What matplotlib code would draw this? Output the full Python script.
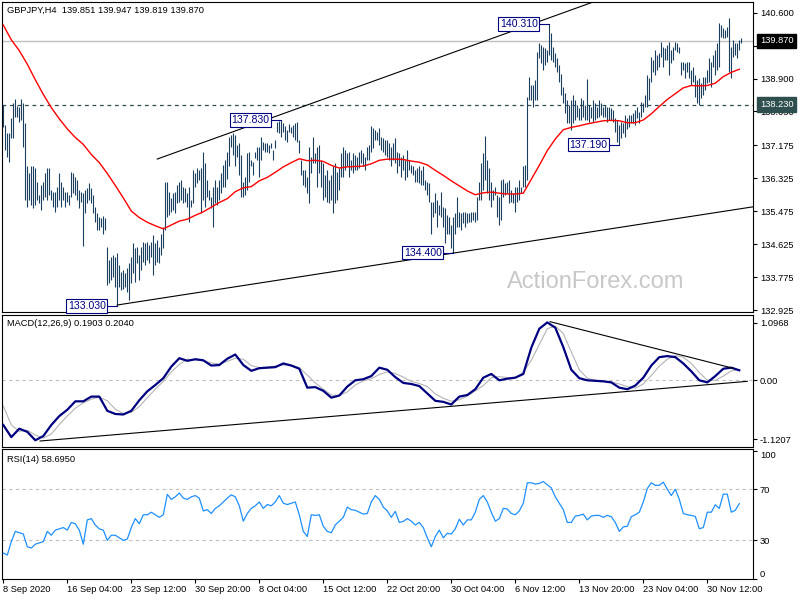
import numpy as np
import matplotlib
matplotlib.use("Agg")
import matplotlib.pyplot as plt

plt.rcParams['font.family'] = ['Liberation Sans', 'DejaVu Sans']

# ---- price data (GBPJPY H4), one entry per bar ----
highs = [
    138.23, 137.70, 137.49, 137.49, 137.87, 138.26, 138.36, 138.19, 138.17, 138.36,
    138.26, 137.74, 136.63, 136.45, 136.63, 136.63, 136.58, 136.24, 135.89, 136.15,
    136.24, 136.45, 136.58, 136.58, 136.02, 135.98, 135.98, 136.11, 136.45, 136.24,
    136.11, 135.98, 135.98, 135.89, 136.50, 136.45, 136.37, 136.28, 136.02, 135.98,
    135.94, 136.02, 136.07, 136.20, 136.07, 135.89, 135.59, 135.42, 135.33, 135.29,
    135.35, 135.29, 134.56, 134.22, 134.30, 134.34, 134.30, 134.39, 134.09, 133.91,
    133.96, 133.87, 134.00, 134.13, 134.30, 134.65, 134.52, 134.56, 134.34, 134.56,
    134.69, 134.65, 134.69, 134.60, 134.69, 134.86, 134.65, 134.73, 134.56, 134.90,
    135.08, 136.24, 136.24, 135.98, 135.81, 135.94, 135.98, 136.15, 136.24, 136.28,
    136.11, 136.07, 135.94, 136.11, 135.77, 136.54, 136.45, 136.58, 136.54,
    136.58, 137.01, 136.71, 136.28, 136.02, 135.85, 136.11, 136.28, 136.11, 136.28,
    136.45, 136.67, 136.80, 137.01, 137.40, 137.44, 137.49, 137.44, 137.19, 137.23,
    136.93, 136.24, 136.37, 136.97, 137.01, 136.80, 136.75, 137.01, 137.14, 137.14,
    137.40, 137.27, 137.23, 137.24, 137.19, 137.23, 137.06, 137.31, 137.79, 137.81,
    137.83, 137.76, 137.68, 137.57, 137.73, 137.66, 137.70, 137.74, 137.79, 137.31,
    136.80, 136.54, 136.54, 136.37, 137.14, 136.88, 137.38, 136.97, 137.14, 137.19,
    136.80, 136.71, 136.41, 136.54, 136.28, 136.41, 136.63, 136.71, 136.50, 136.58,
    136.97, 137.14, 137.06, 136.97, 137.01, 136.80, 136.97, 136.93, 136.88, 137.01,
    137.06, 136.97, 136.88, 137.14, 137.19, 137.68, 137.62, 137.57, 137.53, 137.62,
    137.38, 137.36, 137.31, 137.31, 137.23,
    137.14, 137.23, 137.36, 137.01, 136.97, 136.88, 136.93, 136.80, 137.06, 136.80,
    136.67, 136.63, 136.54, 136.58, 136.63, 136.54, 136.63, 136.28, 136.24, 136.20,
    135.72, 135.72, 135.94, 135.77, 135.64, 135.98, 135.59, 135.55, 135.38, 135.33,
    135.12, 135.33, 135.42, 135.85, 135.46, 135.42, 135.46, 135.46, 135.42, 135.42,
    135.46, 135.46, 135.46, 135.85, 136.24, 136.71, 136.97, 137.42, 136.80, 136.58,
    136.24, 136.02, 136.11, 135.89, 135.85, 136.28, 136.32, 136.20, 136.24, 136.28,
    136.02, 135.94, 136.11, 136.11, 136.28, 136.11, 136.63, 136.67, 138.43, 138.95,
    138.73, 138.73, 138.86, 139.59, 139.81, 139.77, 139.72, 139.68, 139.64, 140.31,
    140.07, 139.72, 139.55, 139.42, 139.25, 139.03, 138.69, 138.52, 138.35, 138.22,
    138.35, 138.48, 138.35, 138.22, 138.13,
    138.39, 138.35, 138.22, 138.88, 138.22, 138.17, 138.35, 138.26, 138.17, 138.35,
    138.26, 138.17, 138.22, 138.17, 138.17, 138.13, 138.09, 137.87, 137.83, 137.70,
    137.79, 137.74, 137.96, 137.87, 137.96, 137.96, 138.00, 138.09, 138.17, 138.04,
    138.30, 138.26, 138.48, 138.99, 138.91, 139.46, 139.38, 139.64, 139.51, 139.55,
    139.85, 139.72, 139.68, 139.77, 139.85, 139.64, 139.72, 139.85, 139.81, 139.72,
    139.34, 139.34, 139.29, 139.34, 139.34, 139.12, 139.21, 138.99, 138.86, 138.91,
    138.78, 138.95, 138.95, 139.12, 139.42, 139.34, 139.51, 139.64, 139.81, 140.33,
    140.28, 140.20, 140.15, 140.24, 140.46, 139.72, 139.90, 139.81, 139.81, 139.90,
    139.947,
]
lows = [
    137.66, 137.06, 136.88, 136.75, 137.36, 137.36, 137.92, 137.92, 137.79, 137.83,
    137.14, 135.77, 135.59, 135.77, 135.64, 135.55, 135.64, 135.77, 135.68, 135.51,
    135.77, 135.85, 135.77, 135.89, 135.77, 135.59, 135.46, 135.59, 135.77, 135.59,
    135.77, 135.59, 135.72, 135.64, 135.85, 135.94, 135.89, 135.77, 135.55, 135.72,
    134.58, 135.42, 135.68, 135.77, 135.68, 135.42, 135.20, 134.99, 134.99, 135.08,
    134.90, 134.99, 133.57, 133.61, 133.70, 133.79, 133.53, 133.03, 133.53, 133.44,
    133.48, 133.53, 133.40, 133.18, 133.61, 133.87, 133.66, 134.13, 133.70, 133.96,
    134.17, 134.09, 134.22, 134.13, 134.30, 133.83, 134.09, 134.17, 134.13, 134.34,
    134.52, 134.99, 135.33, 135.38, 135.46, 135.51, 135.42, 135.68, 135.72, 135.77,
    135.68, 135.72, 135.59, 135.20, 135.59, 135.68, 136.11, 136.20, 136.28,
    135.42, 135.77, 135.59, 135.85, 135.77, 135.55, 135.08, 135.68, 135.64, 135.77,
    135.94, 136.11, 136.11, 136.32, 136.63, 137.14, 136.93, 136.63, 136.88, 136.41,
    135.85, 135.85, 135.89, 136.02, 136.24, 136.63, 136.41, 136.84, 136.80, 136.37,
    136.80, 137.06, 137.01, 137.01, 136.97, 137.10, 136.80, 137.10, 137.53, 137.49,
    137.40, 137.53, 137.31, 137.27, 137.53, 137.49, 137.40, 137.31, 137.27, 136.97,
    136.41, 136.15, 136.11, 135.94, 135.68, 136.45, 136.71, 136.71, 136.11, 136.45,
    136.11, 135.77, 135.85, 135.72, 135.68, 135.77, 135.42, 135.68, 135.77, 136.02,
    136.37, 136.37, 136.54, 136.63, 136.37, 136.54, 136.45, 136.54, 136.54, 136.58,
    136.71, 136.63, 136.54, 136.80, 136.80, 137.01, 137.10, 137.31, 137.31, 137.19,
    137.06, 137.01, 136.93, 136.88, 136.80,
    136.63, 136.80, 136.71, 136.45, 136.63, 136.37, 136.54, 136.28, 136.37, 136.54,
    136.45, 136.41, 136.24, 136.24, 136.20, 136.15, 136.15, 136.02, 135.89, 135.72,
    134.90, 135.33, 135.42, 135.08, 135.38, 135.33, 135.08, 134.65, 134.90, 134.90,
    134.52, 134.40, 134.90, 135.08, 135.08, 134.99, 135.16, 135.08, 135.16, 135.20,
    135.20, 135.25, 135.20, 135.25, 135.77, 135.77, 136.02, 136.28, 135.94, 135.77,
    135.59, 135.77, 135.89, 135.33, 135.12, 135.25, 135.85, 135.89, 135.94, 135.68,
    135.72, 135.68, 135.46, 135.72, 135.77, 135.94, 136.11, 136.11, 136.28, 138.35,
    138.35, 138.17, 138.35, 138.35, 139.42, 139.29, 139.12, 139.25, 139.34, 139.51,
    139.38, 139.34, 139.21, 139.08, 138.82, 138.48, 138.26, 138.00, 137.74, 137.74,
    137.57, 137.74, 137.83, 137.92, 137.83,
    137.83, 137.92, 137.83, 137.83, 137.79, 137.87, 137.79, 137.83, 137.87, 137.92,
    137.96, 137.92, 137.92, 137.79, 137.83, 137.83, 137.79, 137.53, 137.27, 137.19,
    137.36, 137.49, 137.40, 137.61, 137.66, 137.74, 137.74, 137.70, 137.87, 137.74,
    137.92, 138.04, 138.17, 138.17, 138.35, 138.82, 139.08, 138.99, 139.12, 139.21,
    139.46, 139.21, 139.38, 139.38, 138.99, 139.29, 139.38, 139.64, 139.59, 139.55,
    138.99, 139.12, 138.91, 139.08, 138.91, 138.73, 138.82, 138.43, 138.26, 138.22,
    138.39, 138.48, 138.60, 138.78, 138.82, 138.69, 139.21, 138.99, 139.12, 139.21,
    139.98, 139.94, 139.94, 139.98, 139.08, 138.91, 139.46, 139.51, 139.42, 139.64,
    139.819,
]

# moving average (red), read every 4 bars
ma_step = 4
ma = [
    140.28, 139.90, 139.62, 139.27, 138.87, 138.49, 138.15, 137.86, 137.60, 137.38,
    137.20, 136.94, 136.73, 136.45, 136.14, 135.82, 135.48, 135.31, 135.19, 135.10,
    135.02, 135.12, 135.22, 135.27, 135.37, 135.46, 135.58, 135.70, 135.80, 135.98,
    136.08, 136.11, 136.26, 136.35, 136.48, 136.62, 136.73, 136.83, 136.78, 136.79,
    136.76, 136.66, 136.59, 136.62, 136.63, 136.64, 136.70, 136.79, 136.82, 136.82,
    136.81, 136.77, 136.74, 136.67, 136.53, 136.40, 136.26, 136.13, 136.00, 135.90,
    135.95, 135.97, 135.94, 135.92, 135.92, 135.94, 136.30, 136.66, 137.04, 137.34,
    137.58, 137.64, 137.68, 137.73, 137.77, 137.81, 137.82, 137.81, 137.76, 137.76,
    137.83, 137.99, 138.18, 138.36, 138.51, 138.66, 138.72, 138.71, 138.72, 138.78,
    138.95, 139.06, 139.14,
]

# MACD(12,26,9) main and signal, read every 4 bars
macd_step = 4
macd_main = [
    -0.85, -1.08, -0.92, -0.98, -1.14, -1.06, -0.85, -0.68, -0.56, -0.40,
    -0.40, -0.31, -0.31, -0.58, -0.64, -0.65, -0.58, -0.38, -0.21, -0.09,
    0.04, 0.26, 0.42, 0.37, 0.40, 0.38, 0.28, 0.29, 0.41, 0.49,
    0.29, 0.18, 0.23, 0.24, 0.25, 0.32, 0.28, 0.22, -0.14, -0.13,
    -0.20, -0.33, -0.29, -0.12, 0.00, 0.02, 0.08, 0.24, 0.20, 0.06,
    -0.05, -0.07, -0.11, -0.25, -0.39, -0.41, -0.46, -0.31, -0.28, -0.17,
    0.05, 0.12, 0.00, 0.03, 0.05, 0.12, 0.62, 0.98, 1.10, 1.00,
    0.63, 0.20, 0.04, 0.00, -0.01, -0.02, -0.04, -0.14, -0.17, -0.10,
    0.05, 0.28, 0.44, 0.46, 0.44, 0.32, 0.17, 0.00, -0.04, 0.08,
    0.22, 0.24, 0.19,
]
macd_signal = [
    -0.49, -0.85, -0.97, -0.95, -1.04, -1.10, -1.02, -0.84, -0.68, -0.53,
    -0.43, -0.36, -0.32, -0.39, -0.55, -0.63, -0.61, -0.50, -0.33, -0.17,
    -0.02, 0.16, 0.30, 0.40, 0.39, 0.37, 0.33, 0.31, 0.36, 0.42,
    0.40, 0.28, 0.24, 0.25, 0.27, 0.29, 0.29, 0.24, 0.10, -0.05,
    -0.17, -0.28, -0.29, -0.22, -0.09, -0.01, 0.03, 0.11, 0.16, 0.13,
    0.06, -0.02, -0.06, -0.12, -0.26, -0.34, -0.40, -0.37, -0.30, -0.20,
    -0.10, 0.05, 0.07, 0.05, 0.05, 0.15, 0.38, 0.68, 0.98, 1.03,
    0.89, 0.54, 0.20, 0.04, 0.00, -0.02, -0.03, -0.07, -0.12, -0.15,
    -0.07, 0.09, 0.27, 0.40, 0.47, 0.44, 0.32, 0.15, 0.00, 0.00,
    0.08, 0.18, 0.20,
]

# RSI(14), read every 2 bars
rsi_step = 2
rsi = [
    20.1, 18.5, 29, 37, 36, 35, 25, 24, 27, 28,
    29, 37, 34, 38, 39, 40, 38, 44, 43, 38,
    27, 46, 47, 42, 39, 38, 30, 34, 34, 32,
    30, 31, 40, 47, 43, 50, 50, 52, 50, 48,
    50, 66, 62, 64, 67, 63, 62, 64, 65, 63,
    53, 54, 51, 55, 57, 60, 63, 65.6, 64, 57,
    45, 51, 55, 57, 60, 55, 58, 57, 60, 65,
    59, 58, 59, 60, 50, 37, 33, 50, 49.5, 50,
    41, 37, 36, 42, 45, 48, 56, 54, 53.5, 52,
    50.5, 51, 60, 65, 62, 56, 53, 48, 52.6, 44,
    44.8, 47, 45, 42, 44, 40, 32, 25, 33, 38,
    32, 35.5, 35, 39, 46.5, 42, 46, 46, 52, 62,
    65, 60, 52, 45, 47, 55, 54.5, 51, 50, 53,
    59, 75, 75, 74, 74.5, 76, 73.4, 71, 64, 59,
    54, 44, 44, 49, 49.5, 50.5, 46, 49, 49.5, 49.5,
    48, 49.5, 48.5, 44, 37, 40.5, 41, 48.5, 50, 52,
    60, 70.5, 75, 73, 73, 75.5, 70, 65, 70, 62,
    51, 50, 49.5, 48.7, 39.1, 40, 52, 52, 57.8, 55,
    66.1, 66.1, 52, 53.5, 58.7,
]

# marked swing highs / lows (bar index, price)
swing_bars = [57, 139, 225, 273, 308]
swing_prices = [133.030, 137.830, 134.400, 140.310, 137.190]

# trend lines: (bar, value) end points
price_upper_line = [(77, 136.823), (300, 140.97)]
price_lower_line = [(57, 133.055), (375, 135.59)]
macd_lower_line = [(18.4, -1.154), (372, -0.02)]
macd_upper_line = [(273.4, 1.114), (365, 0.228)]

bid_price = 139.870
level_price = 138.230

price_ticks = [140.600, 139.750, 138.900, 138.050, 137.175, 136.325,
               135.475, 134.625, 133.775, 132.925]
time_ticks = [0, 32, 64, 96, 128, 160, 192, 224, 256, 288, 320, 352]
time_labels = ['8 Sep 2020', '16 Sep 04:00', '23 Sep 12:00', '30 Sep 20:00',
               '8 Oct 04:00', '15 Oct 12:00', '22 Oct 20:00', '30 Oct 04:00',
               '6 Nov 12:00', '13 Nov 20:00', '23 Nov 04:00', '30 Nov 12:00']

bar_color = '#1b3f5e'
lab_fs = 6.7
xlim = (-0.65, 374.85)

fig = plt.figure(figsize=(8, 6), dpi=100)
W, H = 800.0, 600.0


def panel(top, bottom):
    return fig.add_axes([2 / W, 1 - bottom / H, 751 / W, (bottom - top) / H])


def style(ax):
    for s in ax.spines.values():
        s.set_linewidth(0.8)
        s.set_color('black')
    ax.yaxis.tick_right()
    ax.tick_params(axis='y', direction='out', length=3, width=0.8,
                   labelsize=lab_fs, pad=2, colors='black')
    ax.set_xlim(*xlim)


# ---- price panel ----
ax1 = panel(2, 312)
style(ax1)
bars_x = np.arange(len(highs))
ax1.axhline(bid_price, color='#c0c0c0', lw=1, zorder=1)
ax1.axhline(level_price, color='#2f4f4f', lw=0.9, ls=(0, (3, 3)), zorder=1)
ax1.vlines(bars_x, lows, highs, color=bar_color, lw=0.8, zorder=3)
ax1.plot(np.arange(len(ma)) * ma_step, ma, color='red', lw=1.0, zorder=4)
for line in (price_upper_line, price_lower_line):
    (x0, y0), (x1, y1) = line
    ax1.plot([x0, x1], [y0, y1], color='black', lw=0.8, zorder=4)

for b, p in zip(swing_bars, swing_prices):
    ax1.plot([b - 5, b], [p, p], color='#000080', lw=0.8, zorder=4)
    ax1.text(b - 5.8, p, f'{p:.3f}', ha='right', va='center', fontsize=7.6,
             color='#000080', zorder=6,
             bbox=dict(boxstyle='square,pad=0.15', fc='white', ec='#000080', lw=0.8))

ax1.set_ylim(132.874, 140.876)
ax1.set_yticks(price_ticks)
ax1.set_yticklabels([f'{v:.3f}' for v in price_ticks])
ax1.set_xticks([])
ax1.text(0.0067, 0.972, 'GBPJPY,H4  139.851 139.947 139.819 139.870',
         transform=ax1.transAxes, ha='left', va='center', fontsize=lab_fs)
ax1.text(0.79, 0.097, 'ActionForex.com', transform=ax1.transAxes,
         ha='center', va='center', fontsize=17, color='#c8c8c8', zorder=2)
ytr = ax1.get_yaxis_transform()
ax1.text(1.0093, bid_price, f'{bid_price:.3f}', transform=ytr, ha='left',
         va='center', fontsize=lab_fs, color='white', zorder=7, clip_on=False,
         bbox=dict(boxstyle='square,pad=0.3', fc='black', ec='black'))
ax1.text(1.0093, level_price, f'{level_price:.3f}', transform=ytr, ha='left',
         va='center', fontsize=lab_fs, color='white', zorder=7, clip_on=False,
         bbox=dict(boxstyle='square,pad=0.3', fc='#2f4f4f', ec='#2f4f4f'))

# ---- MACD panel ----
ax2 = panel(315, 447)
style(ax2)
mx = np.arange(len(macd_main)) * macd_step
ax2.axhline(0, color='#c0c0c0', lw=0.8, ls=(0, (3, 3)), zorder=1)
ax2.plot(mx, macd_signal, color='#b4b4b4', lw=0.8, zorder=2)
ax2.plot(mx, macd_main, color='#000080', lw=1.6, zorder=3)
for line in (macd_lower_line, macd_upper_line):
    (x0, y0), (x1, y1) = line
    ax2.plot([x0, x1], [y0, y1], color='black', lw=0.8, zorder=4)
ax2.set_ylim(-1.268, 1.241)
ax2.set_yticks([1.0968, 0.0, -1.1207])
ax2.set_yticklabels(['1.0968', '0.00', '-1.1207'])
ax2.set_xticks([])
ax2.text(0.0067, 0.932, 'MACD(12,26,9) 0.1903 0.2040', transform=ax2.transAxes,
         ha='left', va='center', fontsize=lab_fs)

# ---- RSI panel ----
ax3 = panel(449, 579)
style(ax3)
ax3.axhline(70, color='#c0c0c0', lw=0.8, ls=(0, (3, 3)), zorder=1)
ax3.axhline(30, color='#c0c0c0', lw=0.8, ls=(0, (3, 3)), zorder=1)
ax3.plot(np.arange(len(rsi)) * rsi_step, rsi, color='#1e90ff', lw=0.9, zorder=3)
ax3.set_ylim(-0.2, 101.4)
ax3.set_yticks([100, 70, 30, 0])
ax3.set_yticklabels(['100', '70', '30', '0'])
tl = ax3.get_yticklabels()
tl[0].set_va('top')
tl[3].set_va('bottom')
ax3.set_xticks(time_ticks)
ax3.set_xticklabels(time_labels, ha='left')
ax3.tick_params(axis='x', direction='out', length=3, width=0.8,
                labelsize=lab_fs, pad=1.5)
ax3.text(0.0067, 0.923, 'RSI(14) 58.6950', transform=ax3.transAxes,
         ha='left', va='center', fontsize=lab_fs)

fig.savefig('out.png', dpi=100)
